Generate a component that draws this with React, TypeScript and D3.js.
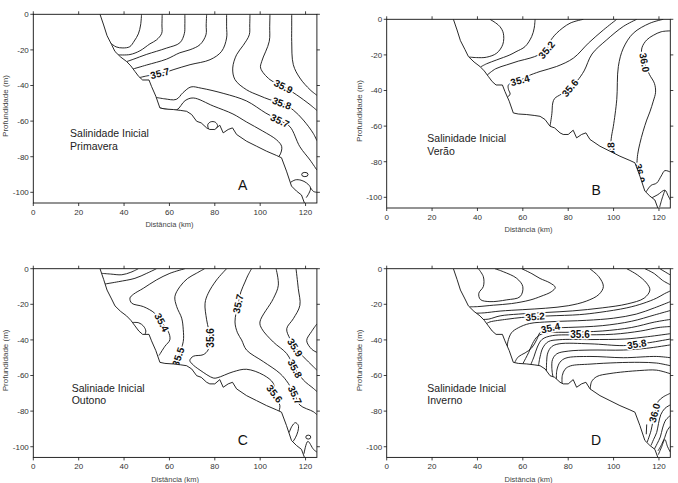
import * as d3 from "d3"

type Pt = [number, number]
type Label = { text: string; x: number; y: number; angle: number }
type Oval = { cx: number; cy: number; rx: number; ry: number }

const xTicks = [0, 20, 40, 60, 80, 100, 120]
const yTicks = [0, -20, -40, -60, -80, -100]
const xDomain: [number, number] = [0, 125]
const yDomain: [number, number] = [-106, 0]

// sea floor, same section for the four seasons
const bathymetry: Pt[] = [
    [29.4, 0], [31, -6], [32.5, -12], [34.5, -17], [36, -20.9], [38.5, -24], [41.1, -26.5],
    [43, -29], [44.8, -32.1], [46.5, -35], [48.2, -36.9], [51, -36.9], [52.1, -40.5], [54, -46],
    [55.8, -52.6], [58, -53.2], [61.7, -53.5], [65, -54], [67.6, -54.5], [69.8, -56.3], [72, -60.1],
    [74, -61], [76.4, -63.8], [77.8, -64.7], [80, -64.7], [82.2, -62.3], [83.7, -66.6], [85.9, -64.7],
    [87.8, -63.8], [89.6, -67.5], [94, -71.3], [98.4, -74.1], [102.8, -76.9], [107.2, -79.3],
    [109.4, -80.6], [111.6, -88.1], [113.8, -96.5], [116, -99.3], [118.2, -101.5], [119.5, -106],
]

// A - Primavera
const contoursA: Pt[][] = [
    [[47.7, 0], [47.3, -6], [46.3, -11], [44.5, -15], [42.5, -18.2], [39.5, -18.9], [36.5, -18.3], [34.2, -16.3]],
    [[56.8, 0], [56.7, -6], [56.6, -10.7], [54.3, -14.4], [51.4, -16.6], [47, -20.5], [42.6, -22.6], [37.4, -22.8]],
    [[66.8, 0], [66.8, -6], [66.6, -10.7], [64.6, -16], [58.7, -19], [50, -22.5], [44, -25.3], [41.1, -26.6]],
    [[76.4, 0], [76.2, -6], [76.1, -11.5], [73.5, -17], [69.1, -19.9], [64.6, -21.6], [58.7, -25.2], [49.9, -28.5], [44, -30.7]],
    [[85.2, 0], [85.2, -7], [85.2, -13.3], [83, -20.8], [77.9, -25.5], [69.1, -28.3], [62, -31], [55.8, -33.5], [50.5, -34.5], [47, -35.5]],
    [[95.5, 0], [95.4, -6], [95.2, -11.5], [92.5, -17.5], [89.6, -22.7], [87.9, -30.2], [88.9, -36.7], [94, -42.4], [99.5, -45.6], [104.3, -48], [109.5, -49.8], [114.6, -53.8], [119, -59.4], [123.4, -66.9], [125, -71]],
    [[104.3, 0], [104.2, -7], [104, -15.2], [100.7, -26.4], [100.2, -30.2], [104.3, -36.7], [110.2, -40.5], [116, -45.2], [122, -50.8], [125, -54]],
    [[113.9, 0], [113.9, -7], [113.9, -15.2], [114.6, -28.3], [117.5, -35.8], [122, -42.4], [125, -45.5]],
    [[54.2, -46.7], [58, -47.5], [63, -47.8], [66, -44], [69.5, -40.8], [74, -41.5], [84, -44.5], [94, -48.7], [102.5, -55.5], [108.7, -59.8], [113.1, -63.1], [117.5, -74.4], [122, -81.9], [125, -87.5]],
    [[55.8, -52.6], [59, -53.4], [63.2, -53.7], [66.9, -48.5], [70.5, -47], [79.3, -51.5], [88, -56], [94, -60.5], [101, -65.5], [107.3, -70.6], [109.5, -74.4], [108.7, -79], [107.3, -80.9]],
    [[77.3, -64.6], [76.9, -62], [78.2, -60.4], [80.2, -60.6], [81.2, -62.5], [80.5, -64.8]],
    [[113.3, -94.5], [115.5, -93], [118, -93.2], [120.5, -94.8], [122.2, -97.5], [121.5, -100.5], [120.3, -103]],
    [[122.2, -97.5], [123.5, -99.5], [125, -100]],
]
const labelsA: Label[] = [
    { text: "35.7", x: 55.8, y: -33.2, angle: -14 },
    { text: "35.9", x: 110.2, y: -40.6, angle: 27 },
    { text: "35.8", x: 109.5, y: -50, angle: 20 },
    { text: "35.7", x: 108.7, y: -59.8, angle: 25 },
]
const ovalsA: Oval[] = [{ cx: 119.7, cy: -90, rx: 1.4, ry: 1.2 }]

// B - Verão
const contoursB: Pt[][] = [
    [[45.5, 0], [48, -2], [49.9, -4.1], [51.4, -7.8], [51.2, -14], [48.5, -19], [44, -21.3], [39.5, -21.5], [36.3, -21.2]],
    [[65.4, 0], [65, -5], [63.9, -9.7], [61, -15.3], [57, -18.2], [54.3, -20], [48.5, -22.8], [44, -25], [41.3, -26.8]],
    [[86.7, 0], [80.8, -2.2], [74.9, -7.8], [72, -12.5], [70.5, -17.2], [67, -20], [63.2, -21.8], [58, -23.5], [52.9, -25.6], [48, -27.8], [44.3, -31.3]],
    [[101.4, 0], [95.5, -6], [88.9, -13.4], [82.3, -21.8], [74.9, -26.5], [67.6, -29.3], [62, -32], [58.8, -34.3], [55.5, -35.3], [53.6, -37], [53.7, -39.5], [54.4, -42], [53.2, -43.8]],
    [[110.2, 0], [104.3, -4], [97, -11.5], [90.5, -19.5], [87, -29], [84, -34.5], [80.8, -38.6], [77, -42], [74, -44.5], [73.2, -47], [72.8, -53], [72, -60]],
    [[121.9, 0], [116, -2.2], [108.7, -7.8], [104.3, -16.2], [102.1, -26.5], [101.4, -45.1], [99.9, -60.1], [99.1, -65.7], [98.4, -74.5]],
    [[125, -6.5], [121, -7], [117.5, -9], [114.6, -11.6], [112.5, -16], [112.5, -21], [113.8, -25], [115.8, -31], [118, -36], [118.5, -41], [117.5, -46], [116, -52], [114.6, -56.6], [113, -63], [111.6, -69.7], [110.6, -76], [110.2, -83]],
    [[114.3, -97], [116.5, -93.3], [119, -92], [121, -88], [122.6, -85], [125, -85.8]],
    [[116.8, -100.3], [119.5, -98.5], [122.6, -96], [124, -99], [125, -101.5]],
    [[122.6, -96], [121.3, -101], [120.3, -105.5]],
]
const labelsB: Label[] = [
    { text: "35.2", x: 70.5, y: -17.2, angle: -50 },
    { text: "35.4", x: 58.8, y: -34.3, angle: -15 },
    { text: "35.6", x: 80.8, y: -38.6, angle: -50 },
    { text: "36.0", x: 113.6, y: -24.3, angle: 80 },
    { text: "35.8", x: 98.9, y: -74.5, angle: -92 },
    { text: "36.0", x: 111.6, y: -86.5, angle: 78 },
]

// C - Outono
const contoursC: Pt[][] = [
    [[30.1, -2.6], [34, -3], [39, -3.4], [43, -2], [46.3, 0]],
    [[31.6, -8.6], [37.5, -7.3], [44.8, -5.4], [50, -2.6], [54.3, 0]],
    [[66.8, 0], [60.2, -2.6], [54.3, -6.3], [48.5, -11], [44.1, -14.4], [42.6, -16.5], [43.4, -19.4], [48.5, -21.3], [53.5, -25], [56.6, -30.2], [59.5, -35.3], [60.2, -39.9], [58, -43.6], [55.4, -48.8]],
    [[75.5, 0], [72, -2.5], [68, -5.5], [64.6, -10.1], [62.4, -15.7], [63.2, -21.3], [65.4, -27.8], [66.1, -34.3], [66.1, -40.9], [63.9, -49.2], [61.7, -53.5]],
    [[85.2, 0], [80.8, -6.3], [77.1, -13.8], [75.7, -19.4], [76.4, -28.7], [77.9, -38.9], [77.1, -45.5], [74.9, -48.3], [70.5, -49.2], [69, -51.5], [70, -53.5], [73.5, -57], [79.3, -61.4], [81, -61.3], [88.1, -57.9], [94, -56.5], [101.4, -59.7], [105.8, -64.4], [106.6, -70.8], [108.7, -77], [108.2, -80.3]],
    [[96.2, 0], [94.5, -4], [93.3, -7.5], [91.5, -13], [90.3, -19.7], [88.9, -29.9], [90, -36], [91.8, -40], [94, -45.7], [101.4, -52.2], [108.7, -58.8], [112.4, -64.4], [115.3, -71], [117.5, -76.6], [123.4, -80.3], [125, -82]],
    [[107, 0], [108, -9.3], [105.8, -16.8], [99.9, -29.9], [100.7, -33.7], [105.8, -41.2], [111.7, -47.7], [115.3, -56], [119, -62.5], [123.4, -67.2], [125, -69]],
    [[115.8, 0], [116.8, -11.2], [117.5, -20.6], [114.6, -28.1], [111.7, -33.7], [113.1, -39.3], [115.3, -44], [119, -49.4], [123.4, -55], [125, -57]],
    [[125, -31], [122.7, -35.2], [120.5, -40.4], [122.7, -45.2], [125, -47]],
    [[43.8, -30.2], [46.5, -30.4], [48.6, -32.3], [49.6, -35], [49.2, -37]],
    [[112.8, -92], [114, -88.5], [115.5, -86.5], [116.8, -88], [116.6, -91.5], [115.5, -95], [114.5, -97]],
    [[119.3, -104], [121, -97], [123.5, -101.5], [125, -103]],
]
const labelsC: Label[] = [
    { text: "35.4", x: 56.6, y: -30.2, angle: 62 },
    { text: "35.5", x: 63.9, y: -49.5, angle: -72 },
    { text: "35.6", x: 77.9, y: -38.9, angle: -90 },
    { text: "35.7", x: 90.3, y: -19.7, angle: -78 },
    { text: "35.9", x: 115.3, y: -44.3, angle: 58 },
    { text: "35.8", x: 115.3, y: -56.2, angle: 62 },
    { text: "35.7", x: 115.3, y: -71, angle: 65 },
    { text: "35.6", x: 106.3, y: -70.3, angle: 52 },
]
const ovalsC: Oval[] = [{ cx: 121.2, cy: -94.6, rx: 1.1, ry: 1.1 }]

// D - Inverno
const contoursD: Pt[][] = [
    [[40.4, 0], [42.6, -4.5], [42.6, -10], [40.6, -13.8], [41.3, -17.3], [45.5, -18.5], [52.9, -17.5], [58.8, -15.7], [60, -10.1], [57.3, -5.4], [51.4, -1.7], [47.7, 0]],
    [[59.5, 0], [64, -2.8], [67.6, -5.5], [72, -8], [74.3, -10.5], [72.5, -13], [68, -15.5], [63.2, -17.6], [55, -19.6], [47, -20.5], [40, -21.3], [36.5, -21.4]],
    [[89.5, 0], [93.5, -4.5], [95.5, -10], [93.5, -14.5], [88, -18.2], [80, -20.8], [70, -22.2], [60, -23], [50, -23.8], [43, -24.8], [39.5, -25]],
    [[105.8, 0], [110.5, -3.5], [114.5, -8], [116, -12], [113.5, -16.5], [106, -19.8], [95, -22], [82, -23.7], [70, -24.6], [58, -25.5], [50, -26.5], [45, -28.3], [42.6, -28.5]],
    [[113.8, 0], [118, -2.8], [121.5, -6.5], [125, -9]],
    [[120.4, 0], [123, -2], [125, -3.5]],
    [[44, -30.8], [45.5, -29.9], [52.9, -28.4], [59.5, -27.4], [65.4, -26.9], [72, -26.5], [85, -25.8], [94, -24.5], [105.8, -22], [113, -19.5], [119, -16.5], [122.5, -14], [125, -12.5]],
    [[53.2, -43.7], [53.4, -41], [55, -36], [58, -33.2], [63, -30.8], [72, -29.8], [88, -29], [100, -27.8], [110, -25.5], [118, -22], [125, -18.5]],
    [[56.3, -53], [58, -49.5], [61, -47.3], [63.9, -44.5], [66.1, -39.9], [67.6, -35.8], [70, -33.8], [72.2, -33.3], [80, -33], [95, -32], [108, -29.5], [118, -26], [125, -23.5]],
    [[60, -53.4], [61.2, -50.5], [62.6, -47], [64.3, -42], [66.5, -38], [70, -36.1], [80, -35.7], [95, -35], [108, -33], [118, -30], [125, -28.5]],
    [[63.5, -53.9], [64.9, -49.5], [66.4, -44], [68.5, -39.7], [73, -37.6], [85.2, -37.2], [100, -36.8], [112, -35], [120, -33], [125, -32.5]],
    [[66.9, -54.4], [67.6, -49.5], [68.8, -44.5], [71.2, -41], [76, -39.9], [90, -39.8], [105, -39.5], [115, -38.2], [125, -36.5]],
    [[70.4, -57.5], [70.5, -52], [71, -47.3], [72.7, -43.8], [76, -42.2], [89.6, -42.2], [104.3, -43.2], [110.2, -42.5], [116, -41.5], [125, -39.5]],
    [[73.3, -60.9], [72.8, -56], [73.1, -51], [75, -47.8], [80, -46.3], [89.6, -45.7], [104.3, -45.7], [114.6, -44.7], [125, -42.8]],
    [[74.8, -62], [75, -57], [76.4, -52.5], [79, -50.2], [89.6, -49.3], [104.3, -50], [119, -49.3], [125, -50]],
    [[77.3, -64.7], [77.4, -60], [78.6, -56.5], [81, -54.6], [89.6, -53.6], [101.4, -52.8], [111.6, -52.6], [119, -53], [125, -54.5]],
    [[89.7, -67.6], [90.3, -63.5], [92.6, -60.6], [98.4, -58.9], [111.6, -57.2], [119, -57], [125, -59]],
    [[125, -70], [121.9, -72], [119.7, -74.5], [118.8, -77.5], [118.2, -81], [117.3, -86], [116.5, -91], [114.8, -97.5]],
    [[125, -76.5], [122.6, -78.5], [120.8, -82], [119.8, -87], [119, -92], [117.6, -96], [116.5, -99.3]],
    [[125, -82.5], [123, -85], [121.6, -89.5], [120.6, -94.5], [119.2, -98.3], [118, -101.3]],
    [[125, -88.5], [123.6, -91], [122.5, -95], [121.2, -98.7], [119.6, -102.3]],
    [[119.7, -104.5], [121.2, -100], [122.6, -96], [123.8, -100], [125, -103]],
    [[114.6, -87.5], [114.4, -93]],
]
const labelsD: Label[] = [
    { text: "35.2", x: 65.4, y: -26.9, angle: -5 },
    { text: "35.4", x: 72.2, y: -33.3, angle: -12 },
    { text: "35.6", x: 85.2, y: -37.1, angle: 0 },
    { text: "35.8", x: 110.2, y: -42.4, angle: -10 },
    { text: "36.0", x: 118.1, y: -81, angle: -75 },
]

const seasons = ["Primavera", "Verão", "Outono", "Inverno"]
const headings = ["Salinidade Inicial", "Salinidade Inicial", "Saliniade Inicial", "Salinidade Inicial"]
const letters = ["A", "B", "C", "D"]

const W = 678
const H = 483
const plotW = 283.6
const plotH = 188.7
const font = "'Liberation Sans', Arial, Helvetica, sans-serif"

type PanelCfg = {
    left: number
    top: number
    contours: Pt[][]
    labels: Label[]
    ovals: Oval[]
    heading: string
    season: string
    letter: string
    textX: number
    axisTitleX: number
}

const panels: PanelCfg[] = [
    { left: 33.3, top: 14.3, contours: contoursA, labels: labelsA, ovals: ovalsA, heading: headings[0], season: seasons[0], letter: letters[0], textX: 16.2, axisTitleX: 60 },
    { left: 386.7, top: 19.3, contours: contoursB, labels: labelsB, ovals: [], heading: headings[1], season: seasons[1], letter: letters[1], textX: 17.9, axisTitleX: 62.5 },
    { left: 33.3, top: 268.7, contours: contoursC, labels: labelsC, ovals: ovalsC, heading: headings[2], season: seasons[2], letter: letters[2], textX: 16.9, axisTitleX: 62.5 },
    { left: 386.7, top: 268.7, contours: contoursD, labels: labelsD, ovals: [], heading: headings[3], season: seasons[3], letter: letters[3], textX: 17.9, axisTitleX: 62.5 },
]

function Panel({ cfg }: { cfg: PanelCfg }) {
    const x = d3.scaleLinear().domain(xDomain).range([0, plotW])
    const y = d3.scaleLinear().domain(yDomain).range([plotH, 0])
    const smooth = d3.line<Pt>().x(d => x(d[0])).y(d => y(d[1])).curve(d3.curveCatmullRom.alpha(0.5))
    const straight = d3.line<Pt>().x(d => x(d[0])).y(d => y(d[1]))
    const clipId = `clip-${cfg.letter}`
    const last = bathymetry[bathymetry.length - 1]
    const land: Pt[] = [[0, 0], ...bathymetry, [last[0], yDomain[0]], [0, yDomain[0]]]

    return (
        <g transform={`translate(${cfg.left},${cfg.top})`}>
            <defs>
                <clipPath id={clipId}>
                    <rect width={plotW} height={plotH} />
                </clipPath>
            </defs>
            <g clipPath={`url(#${clipId})`}>
                {cfg.contours.map((c, i) => (
                    <path key={i} d={smooth(c) ?? ""} fill="none" stroke="#111" strokeWidth={0.9} />
                ))}
                {cfg.ovals.map((o, i) => (
                    <ellipse key={i} cx={x(o.cx)} cy={y(o.cy)}
                        rx={x(o.rx) - x(0)} ry={y(0) - y(o.ry)}
                        fill="none" stroke="#111" strokeWidth={0.9} />
                ))}
                {cfg.labels.map((l, i) => (
                    <text key={i} transform={`translate(${x(l.x)},${y(l.y)}) rotate(${l.angle})`}
                        textAnchor="middle" dy="0.35em" fontSize={10} fontWeight="bold"
                        fontFamily={font} fill="#111" stroke="white" strokeWidth={3}
                        paintOrder="stroke">{l.text}</text>
                ))}
                <path d={(straight(land) ?? "") + "Z"} fill="white" />
                <path d={straight(bathymetry) ?? ""} fill="none" stroke="#111" strokeWidth={0.9} />
            </g>
            <rect width={plotW} height={plotH} fill="none" stroke="#111" strokeWidth={0.9} />
            {xTicks.map(t => (
                <g key={`x${t}`}>
                    <line x1={x(t)} x2={x(t)} y1={plotH} y2={plotH + 3} stroke="#111" strokeWidth={0.8} />
                    <line x1={x(t)} x2={x(t)} y1={0} y2={-3} stroke="#111" strokeWidth={0.8} />
                    <text x={x(t)} y={plotH + 12} textAnchor="middle" fontSize={8}
                        fontFamily={font} fill="#333">{t}</text>
                </g>
            ))}
            {yTicks.map(t => (
                <g key={`y${t}`}>
                    <line x1={0} x2={-3} y1={y(t)} y2={y(t)} stroke="#111" strokeWidth={0.8} />
                    <line x1={plotW} x2={plotW + 3} y1={y(t)} y2={y(t)} stroke="#111" strokeWidth={0.8} />
                    <text x={-4.5} y={y(t)} dy="0.35em" textAnchor="end" fontSize={8}
                        fontFamily={font} fill="#333">{t}</text>
                </g>
            ))}
            <text x={x(cfg.axisTitleX)} y={plotH + 24.5} textAnchor="middle" fontSize={7.5}
                fontFamily={font} fill="#444">Distância (km)</text>
            <text transform={`translate(-28,${y(-51.5)}) rotate(-90)`} dy="0.35em" textAnchor="middle"
                fontSize={8} fontFamily={font} fill="#444">Profundidade (m)</text>
            <text x={x(cfg.textX)} y={y(-69)} fontSize={10.5} fontFamily={font} fill="#222">{cfg.heading}</text>
            <text x={x(cfg.textX)} y={y(-76)} fontSize={10.5} fontFamily={font} fill="#222">{cfg.season}</text>
            <text x={x(92.3)} y={y(-96)} dy="0.36em" textAnchor="middle" fontSize={14}
                fontFamily={font} fill="#111">{cfg.letter}</text>
        </g>
    )
}

export default function App() {
    return (
        <div style={{ position: "absolute", left: 0, top: 0 }}>
            <svg width={W} height={H} style={{ display: "block", background: "white" }}>
                {panels.map(p => <Panel key={p.letter} cfg={p} />)}
            </svg>
        </div>
    )
}
